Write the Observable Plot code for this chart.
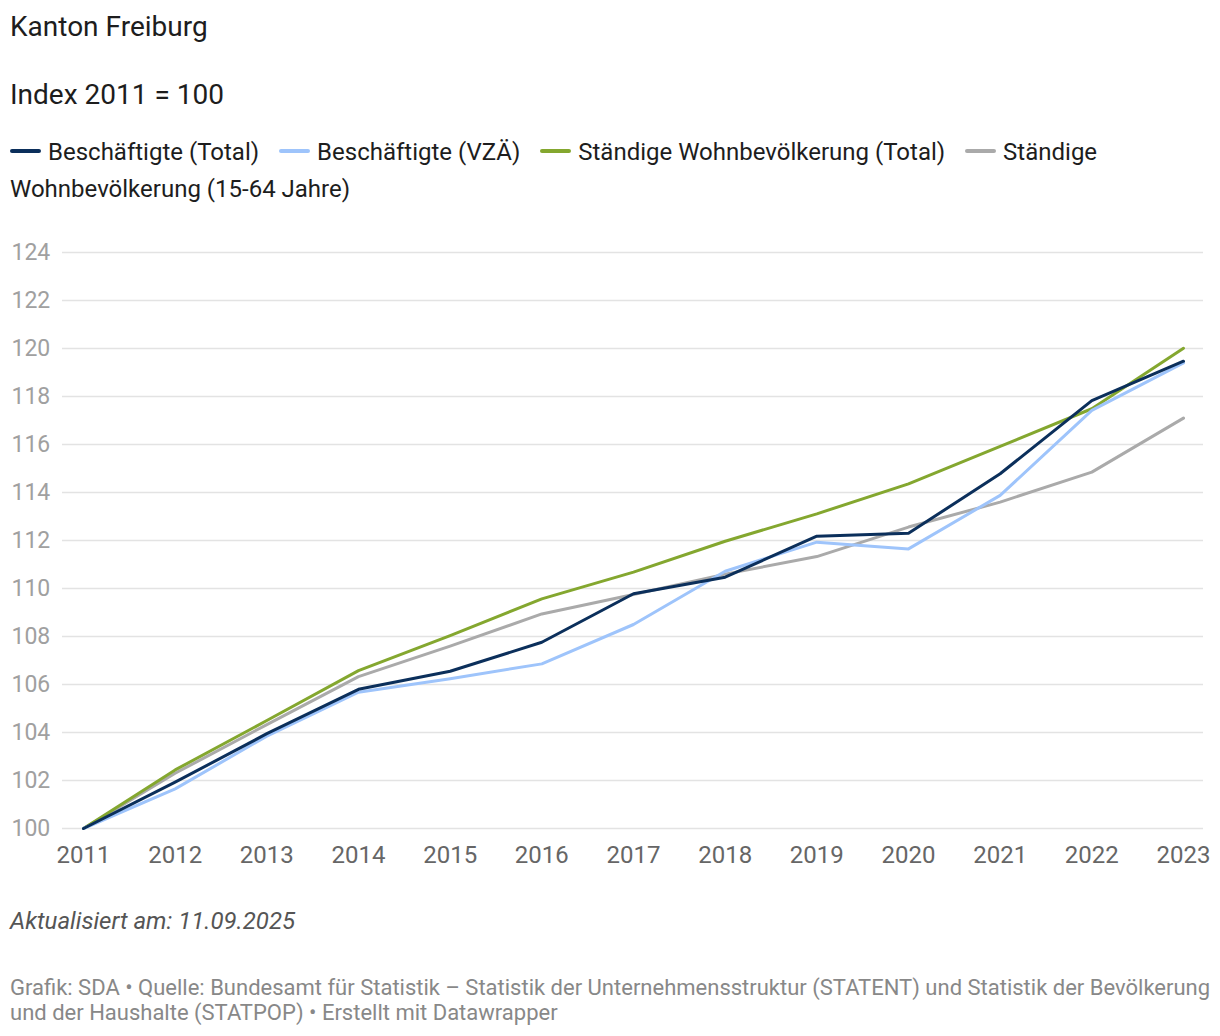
<!DOCTYPE html>
<html>
<head>
<meta charset="utf-8">
<script src="https://cdn.jsdelivr.net/npm/d3@7"></script>
<script src="https://cdn.jsdelivr.net/npm/@observablehq/plot@0.6"></script>
<style>
  html, body { margin: 0; padding: 0; background: #fff; }
  body { font-family: Roboto, "Noto Sans", sans-serif; color: #1d1d1d; width: 1220px; }
  .title { font-size: 28px; line-height: 34px; margin: 0; padding: 10px 0 0 10px; height: 34px; }
  .subtitle { font-size: 28px; line-height: 34px; margin: 0; padding: 34px 0 0 10px; height: 34px; }
  .legend { font-size: 24px; line-height: 37px; margin: 0; padding: 21.5px 0 0 10px; width: 1200px; height: 74px; }
  .legend .sw { display: inline-block; width: 31px; height: 3.5px; border-radius: 2px; vertical-align: middle; margin-right: 7px; position: relative; top: -2px; }
  .legend .item { margin-right: 14px; }
  #chart { margin-top: 22.5px; height: 643px; }
  #chart svg { display: block; }
  .note { padding: 33px 0 0 10px; font-size: 24px; line-height: 30px; height: 30px; font-style: italic; color: #555; }
  .footer { padding: 38.5px 0 0 10px; font-size: 22px; line-height: 25px; color: #888; width: 1205px; }
</style>
</head>
<body>
  <div class="title">Kanton Freiburg</div>
  <div class="subtitle">Index 2011 = 100</div>
  <div class="legend" id="legend"></div>
  <div id="chart"></div>
  <div class="note">Aktualisiert am: 11.09.2025</div>
  <div class="footer">Grafik: SDA • Quelle: Bundesamt für Statistik – Statistik der Unternehmensstruktur (STATENT) und Statistik der Bevölkerung und der Haushalte (STATPOP) • Erstellt mit Datawrapper</div>
<script>
const years = [2011, 2012, 2013, 2014, 2015, 2016, 2017, 2018, 2019, 2020, 2021, 2022, 2023];
const seriesNames = ["Beschäftigte (Total)", "Beschäftigte (VZÄ)", "Ständige Wohnbevölkerung (Total)", "Ständige Wohnbevölkerung (15-64 Jahre)"];
const seriesColors = ["#0b2f5b", "#9ec4fb", "#84a72f", "#aaaaaa"];
const beschTotal = [100, 101.93, 103.95, 105.8, 106.55, 107.76, 109.78, 110.47, 112.18, 112.3, 114.78, 117.83, 119.47];
const beschVZA   = [100, 101.65, 103.85, 105.68, 106.24, 106.86, 108.5, 110.72, 111.93, 111.65, 113.88, 117.42, 119.4];
const wohnTotal  = [100, 102.44, 104.5, 106.58, 108.04, 109.57, 110.68, 111.97, 113.11, 114.36, 115.92, 117.49, 120.01];
const wohn1564   = [100, 102.3, 104.33, 106.33, 107.6, 108.94, 109.75, 110.6, 111.33, 112.56, 113.6, 114.85, 117.1];
const yTicks = [100, 102, 104, 106, 108, 110, 112, 114, 116, 118, 120, 122, 124];

const allSeries = [beschTotal, beschVZA, wohnTotal, wohn1564];
const drawOrder = [3, 2, 1, 0];
const data = [];
for (const s of drawOrder) {
  years.forEach((y, i) => data.push({year: y, value: allSeries[s][i], series: seriesNames[s]}));
}

const leg = document.getElementById("legend");
leg.innerHTML = seriesNames.map((n, i) =>
  `<span class="item"><span class="sw" style="background:${seriesColors[i]}"></span>${n}</span>`).join(" ");

const plot = Plot.plot({
  width: 1220,
  height: 643,
  marginLeft: 62,
  marginRight: 17,
  marginTop: 22,
  marginBottom: 45,
  style: {fontFamily: "Roboto, sans-serif", background: "#fff"},
  x: {domain: [2011, 2023], insetLeft: 21, insetRight: 20, ticks: years, tickFormat: d => String(d)},
  y: {domain: [100, 124], ticks: yTicks},
  color: {domain: seriesNames, range: seriesColors},
  marks: [
    Plot.ruleY(yTicks, {stroke: "#e3e3e3", strokeWidth: 1.5}),
    Plot.axisY({ticks: yTicks, tickSize: 0, textAnchor: "start", dx: -42, fontSize: 23, fill: "#a0a0a0", label: null}),
    Plot.axisX({ticks: years, tickSize: 0, tickFormat: d => String(d), fontSize: 24, fill: "#666", dy: 8, label: null}),
    Plot.line(data, {x: "year", y: "value", z: "series", stroke: "series", strokeWidth: 3, strokeLinejoin: "round", strokeLinecap: "round"})
  ]
});
document.getElementById("chart").appendChild(plot);
</script>
</body>
</html>
